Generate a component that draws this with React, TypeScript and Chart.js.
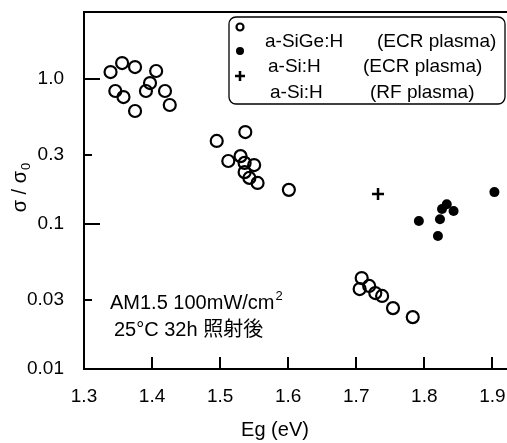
import React, { useEffect, useRef } from "react";
import { Chart, registerables } from "chart.js";

Chart.register(...registerables);

// a-SiGe:H (ECR plasma) — open circles
const sigeEg = [
  1.339, 1.356, 1.375, 1.406, 1.346, 1.358, 1.375, 1.391, 1.397, 1.419, 1.426,
  1.495, 1.537, 1.512, 1.530, 1.536, 1.550, 1.536, 1.543, 1.555, 1.601,
  1.708, 1.705, 1.719, 1.728, 1.738, 1.754, 1.783,
];
const sigeRatio = [
  1.117, 1.289, 1.21, 1.136, 0.827, 0.751, 0.602, 0.827, 0.938, 0.827, 0.662,
  0.374, 0.431, 0.272, 0.294, 0.264, 0.255, 0.228, 0.208, 0.192, 0.172,
  0.0424, 0.0356, 0.0374, 0.0334, 0.0319, 0.0263, 0.0228,
];

// a-Si:H (ECR plasma) — filled circles
const siEcrEg = [1.792, 1.820, 1.823, 1.826, 1.833, 1.843, 1.903];
const siEcrRatio = [0.105, 0.0827, 0.108, 0.127, 0.137, 0.123, 0.166];

// a-Si:H (RF plasma) — plus
const siRfEg = [1.732];
const siRfRatio = [0.161];

const xTicks = [1.3, 1.4, 1.5, 1.6, 1.7, 1.8, 1.9];
const yTicks = [0.01, 0.03, 0.1, 0.3, 1.0];
const yTickLabels = ["0.01", "0.03", "0.1", "0.3", "1.0"];
const yMajor = [0.1, 1.0];

const legendNames = ["a-SiGe:H", "a-Si:H", "a-Si:H"];
const legendProcs = ["(ECR plasma)", "(ECR plasma)", "(RF plasma)"];
const noteLine1 = "AM1.5 100mW/cm";
const noteSup = "2";
const noteLine2 = "25°C 32h 照射後";
const xTitle = "Eg (eV)";

const FONT = '"Liberation Sans", Arial, Helvetica, sans-serif';
const JFONT = '"Liberation Sans", Arial, "Noto Sans CJK JP", sans-serif';

const toPts = (xs: number[], ys: number[]) => xs.map((x, i) => ({ x, y: ys[i] }));

const decorPlugin = {
  id: "decor",
  afterDraw(chart: any) {
    const ctx = chart.ctx as CanvasRenderingContext2D;
    const { left, top, bottom } = chart.chartArea;
    const xs = chart.scales.x;
    const ys = chart.scales.y;
    ctx.save();
    ctx.strokeStyle = "#000";
    ctx.fillStyle = "#000";
    // top frame
    ctx.lineWidth = 2;
    ctx.beginPath();
    ctx.moveTo(left - 1, top);
    ctx.lineTo(chart.width, top);
    ctx.stroke();
    // bottom axis continues to the page edge
    ctx.beginPath();
    ctx.moveTo(left - 1, bottom);
    ctx.lineTo(chart.width, bottom);
    ctx.stroke();
    // inward ticks x
    xTicks.forEach((v) => {
      if (v === xTicks[0]) return;
      const px = Math.round(xs.getPixelForValue(v));
      ctx.beginPath();
      ctx.moveTo(px, bottom);
      ctx.lineTo(px, bottom - 12);
      ctx.stroke();
    });
    // inward ticks y
    yTicks.forEach((v) => {
      if (v === yTicks[0]) return;
      const py = Math.round(ys.getPixelForValue(v));
      const len = yMajor.includes(v) ? 16 : 8;
      ctx.beginPath();
      ctx.moveTo(left, py);
      ctx.lineTo(left + len, py);
      ctx.stroke();
    });

    // legend box
    const bx = 229, by = 17, bw = 276, bh = 87, r = 7;
    ctx.lineWidth = 1.3;
    ctx.beginPath();
    ctx.moveTo(bx + r, by);
    ctx.lineTo(bx + bw - r, by);
    ctx.arcTo(bx + bw, by, bx + bw, by + r, r);
    ctx.lineTo(bx + bw, by + bh - r);
    ctx.arcTo(bx + bw, by + bh, bx + bw - r, by + bh, r);
    ctx.lineTo(bx + r, by + bh);
    ctx.arcTo(bx, by + bh, bx, by + bh - r, r);
    ctx.lineTo(bx, by + r);
    ctx.arcTo(bx, by, bx + r, by, r);
    ctx.closePath();
    ctx.fillStyle = "#fff";
    ctx.fill();
    ctx.fillStyle = "#000";
    ctx.stroke();

    // legend markers
    ctx.lineWidth = 2.2;
    ctx.beginPath();
    ctx.arc(240, 27, 3.5, 0, Math.PI * 2);
    ctx.stroke();
    ctx.beginPath();
    ctx.arc(240, 51, 4, 0, Math.PI * 2);
    ctx.fill();
    ctx.lineWidth = 2.5;
    ctx.beginPath();
    ctx.moveTo(235, 76);
    ctx.lineTo(245, 76);
    ctx.moveTo(240, 71);
    ctx.lineTo(240, 81);
    ctx.stroke();

    // legend text
    ctx.font = `19px ${FONT}`;
    ctx.textBaseline = "middle";
    ctx.textAlign = "left";
    const rowsY = [42, 67, 93];
    const nameX = [265, 268, 270];
    const procX = [377, 363, 370];
    legendNames.forEach((n, i) => {
      ctx.fillText(n, nameX[i], rowsY[i]);
      ctx.fillText(legendProcs[i], procX[i], rowsY[i]);
    });

    // annotation
    ctx.font = `20px ${FONT}`;
    ctx.fillText(noteLine1, 110, 303);
    const w1 = ctx.measureText(noteLine1).width;
    ctx.font = `13px ${FONT}`;
    ctx.fillText(noteSup, 110 + w1 + 1, 296);
    ctx.font = `20px ${JFONT}`;
    ctx.fillText(noteLine2, 114, 330);

    // x title
    ctx.font = `20px ${FONT}`;
    ctx.textAlign = "center";
    ctx.fillText(xTitle, 275, 430);

    // y title: σ / σ0 rotated
    ctx.translate(20, 188);
    ctx.rotate(-Math.PI / 2);
    ctx.font = `20px ${FONT}`;
    ctx.textAlign = "left";
    const main = "σ / σ";
    const mw = ctx.measureText(main).width;
    ctx.font = `13px ${FONT}`;
    const sw = ctx.measureText("0").width;
    const start = -(mw + sw) / 2;
    ctx.font = `20px ${FONT}`;
    ctx.fillText(main, start, 0);
    ctx.font = `13px ${FONT}`;
    ctx.fillText("0", start + mw + 1, 6);
    ctx.restore();
  },
};

const zeroPad = (s: any) => {
  s.paddingTop = 0;
  s.paddingBottom = 0;
  s.paddingLeft = 0;
  s.paddingRight = 0;
};

export default function App() {
  const ref = useRef<HTMLCanvasElement | null>(null);
  useEffect(() => {
    if (!ref.current) return;
    const chart = new Chart(ref.current, {
      type: "scatter",
      data: {
        datasets: [
          {
            label: "a-SiGe:H (ECR plasma)",
            data: toPts(sigeEg, sigeRatio),
            pointStyle: "circle",
            pointRadius: 6,
            pointBorderWidth: 2.2,
            borderColor: "#000",
            backgroundColor: "rgba(0,0,0,0)",
            clip: false,
          },
          {
            label: "a-Si:H (ECR plasma)",
            data: toPts(siEcrEg, siEcrRatio),
            pointStyle: "circle",
            pointRadius: 5,
            pointBorderWidth: 0,
            borderColor: "#000",
            backgroundColor: "#000",
            clip: false,
          },
          {
            label: "a-Si:H (RF plasma)",
            data: toPts(siRfEg, siRfRatio),
            pointStyle: "cross",
            pointRadius: 6,
            pointBorderWidth: 2.5,
            borderColor: "#000",
            backgroundColor: "#000",
            clip: false,
          },
        ],
      },
      options: {
        animation: false,
        responsive: false,
        devicePixelRatio: 1,
        layout: { padding: { top: 12, left: 0, right: 0, bottom: 0 } },
        plugins: { legend: { display: false }, tooltip: { enabled: false } },
        scales: {
          x: {
            type: "linear",
            min: 1.3,
            max: 1.909,
            grid: { display: false, drawTicks: false },
            border: { display: true, width: 2, color: "#000" },
            ticks: {
              color: "#000",
              font: { size: 19, family: FONT },
              padding: 16,
              maxRotation: 0,
              callback: (v: any) => Number(v).toFixed(1),
            },
            afterBuildTicks: (s: any) => {
              s.ticks = xTicks.map((v) => ({ value: v }));
            },
            afterFit: (s: any) => {
              s.height = 74;
              zeroPad(s);
            },
          },
          y: {
            type: "logarithmic",
            min: 0.01,
            max: 2.9,
            grid: { display: false, drawTicks: false },
            border: { display: true, width: 2, color: "#000" },
            ticks: {
              color: "#000",
              font: { size: 19, family: FONT },
              padding: 20,
              callback: (v: any) => {
                const i = yTicks.findIndex((t) => Math.abs(t - Number(v)) < 1e-9);
                return i >= 0 ? yTickLabels[i] : "";
              },
            },
            afterBuildTicks: (s: any) => {
              s.ticks = yTicks.map((v) => ({ value: v }));
            },
            afterFit: (s: any) => {
              s.width = 84;
              zeroPad(s);
            },
          },
        },
      },
      plugins: [decorPlugin],
    });
    return () => chart.destroy();
  }, []);
  return (
    <div style={{ position: "fixed", left: 0, top: 0, width: 507, height: 443, background: "#fff" }}>
      <canvas ref={ref} width={507} height={443} style={{ display: "block", width: 507, height: 443 }} />
    </div>
  );
}
